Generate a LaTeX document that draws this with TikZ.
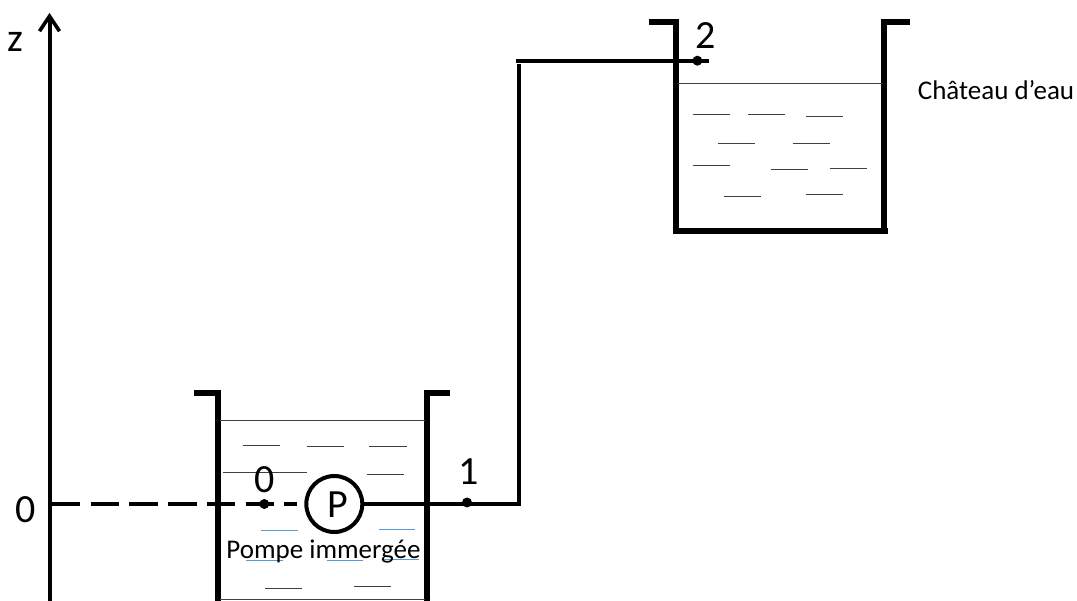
\documentclass[tikz,border=0pt]{standalone}
\usepackage{fontspec}
\setmainfont{Carlito}
\usetikzlibrary{arrows.meta}
\definecolor{bluewater}{RGB}{91,155,213}
\newcommand{\wallw}{5.8pt}
\newcommand{\pipew}{4pt}
\tikzset{
    WallStyle/.style = {line width=\wallw, line cap=butt, miter limit=10},
    PipeStyle/.style = {line width=\pipew},
    WaterStyle/.style = {line width=1pt, black!75},
    WaterBlue/.style = {line width=1pt, bluewater},
    PointStyle/.style = {circle, fill=black, inner sep=0pt, minimum size=10pt},
    BigLabel/.style = {inner sep=0pt, font=\fontsize{40}{40}\selectfont},
    SmallLabel/.style = {inner sep=0pt, font=\fontsize{27}{27}\selectfont}
}
\begin{document}
\begin{tikzpicture}[x=1pt,y=-1pt]
            \useasboundingbox (0,0) rectangle (1077,601);
            % axis
            \coordinate (axisb) at (49.5,601);
            \coordinate (axist) at (49.5,13);
            \coordinate (axis0) at (52,504);
            \draw[PipeStyle,-{Straight Barb[length=15pt,width=20pt,line width=3.6pt]}] (axisb) -- (axist);
            \node[BigLabel] (zlab) at (15,41.5) {z};
            \node[BigLabel] (zerolab) at (25.5,509.5) {0};
            % lower tank
            \draw[WallStyle] (194,393) -- (217.7,393) -- (217.7,601);
            \draw[WallStyle] (450,393) -- (427,393) -- (427,601);
            \draw[WaterStyle] (220,420.7) -- (425,420.7);
            \draw[WaterStyle] (220,599.5) -- (425,599.5);
            \draw[WaterStyle] (243.3,445.3) -- (280,445.3);
            \draw[WaterStyle] (307.3,446.7) -- (344,446.7);
            \draw[WaterStyle] (369.3,446.7) -- (406.7,446.7);
            \draw[WaterStyle] (223.3,472.3) -- (307.3,472.3);
            \draw[WaterStyle] (367.3,474.7) -- (404,474.7);
            \draw[WaterBlue] (261,530.7) -- (297.7,530.7);
            \draw[WaterBlue] (378.7,529.3) -- (415.3,529.3);
            \draw[WaterBlue] (246,560.3) -- (282.7,560.3);
            \draw[WaterBlue] (326.7,560.3) -- (363.3,560.3);
            \draw[WaterBlue] (382.3,559) -- (419,559);
            \draw[WaterStyle] (265,588) -- (301.7,588);
            \draw[WaterStyle] (354,586.7) -- (390.7,586.7);
            % upper tank
            \draw[WallStyle] (649.4,22) -- (675.6,22) -- (675.6,230.7);
            \draw[WallStyle] (909.6,22) -- (883.8,22) -- (883.8,230.7);
            \draw[WallStyle] (673.4,230.7) -- (888,230.7);
            \draw[WaterStyle] (678,83.3) -- (882,83.3);
            \draw[WaterStyle] (692.6,115) -- (729.5,115);
            \draw[WaterStyle] (747.6,115) -- (784.9,115);
            \draw[WaterStyle] (806.3,117) -- (843.2,117);
            \draw[WaterStyle] (718,143.3) -- (755.4,143.3);
            \draw[WaterStyle] (792.6,143.3) -- (829.9,143.3);
            \draw[WaterStyle] (692.6,166) -- (729.5,166);
            \draw[WaterStyle] (771.2,170) -- (808.1,170);
            \draw[WaterStyle] (829.9,168.3) -- (867.2,168.3);
            \draw[WaterStyle] (724,196.7) -- (761.3,196.7);
            \draw[WaterStyle] (806.3,194.7) -- (843.2,194.7);
            % pump and pipe
            \node[circle, draw, fill=white, line width=\pipew, minimum size=56pt, inner sep=0pt] (pump) at (334.3,504) {};
            \node[BigLabel] (plab) at (337.5,504.5) {P};
            \coordinate (corner) at (518.7,504);
            \coordinate (riser) at (518.7,63.6);
            \coordinate (pipel) at (516,60.7);
            \coordinate (piper) at (708.5,60.7);
            \draw[PipeStyle, dash pattern=on 28.4pt off 10.3pt, shorten >=7pt] (axis0) -- (pump);
            \draw[PipeStyle] (pump) -- (corner) -- (riser);
            \draw[PipeStyle] (pipel) -- (piper);
            % points
            \node[PointStyle] (p0) at (264.3,504) {};
            \node[PointStyle] (p1) at (467,502.5) {};
            \node[PointStyle] (p2) at (697.4,60.7) {};
            \node[BigLabel] (p0lab) at (265,480) {0};
            \node[BigLabel] (p1lab) at (469,472) {1};
            \node[BigLabel] (p2lab) at (705.5,36) {2};
            \node[SmallLabel] (pumplab) at (323.5,552) {Pompe immergée};
            \node[SmallLabel] (towerlab) at (996,90) {Château d’eau};
\end{tikzpicture}
\end{document}
